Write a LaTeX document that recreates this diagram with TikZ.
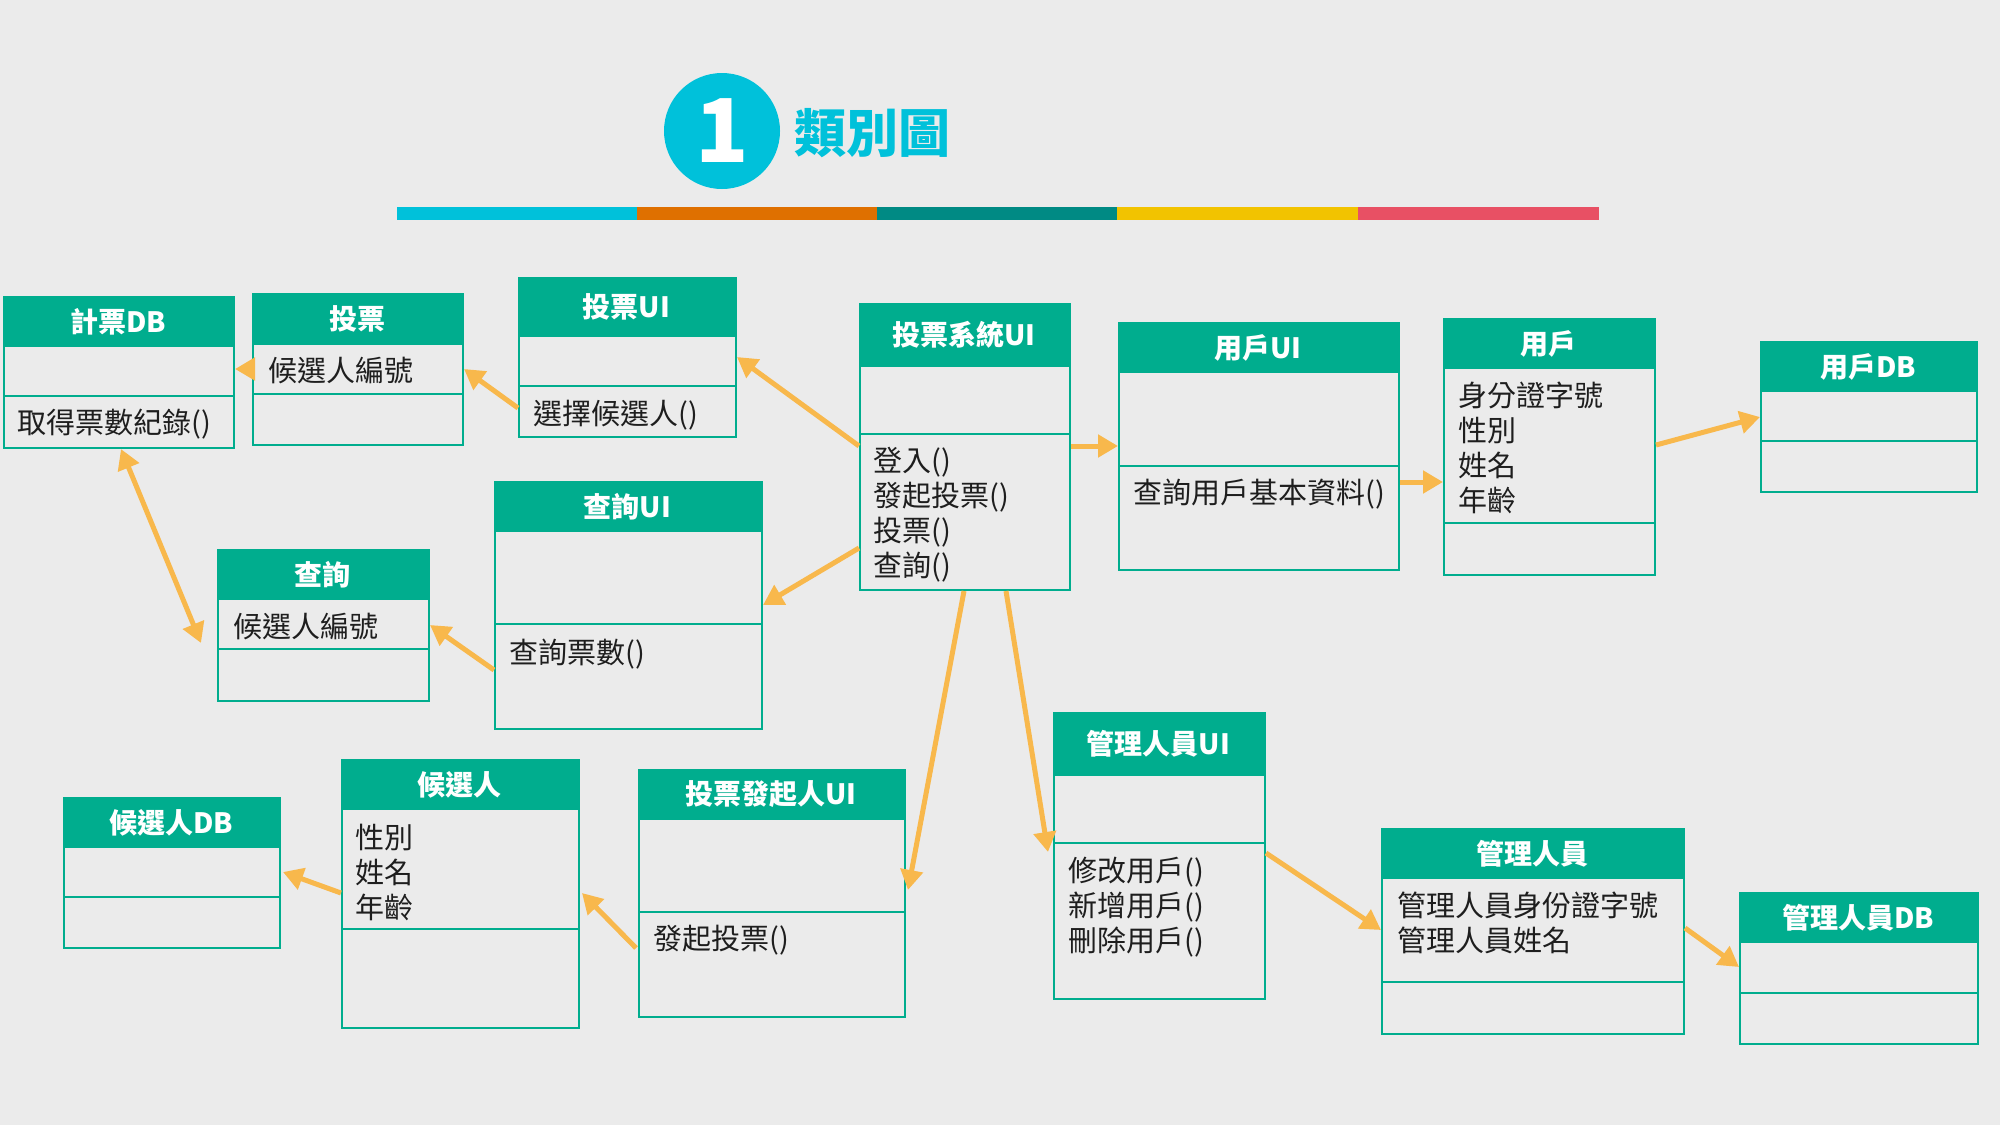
\documentclass[tikz,border=0pt]{standalone}
\usepackage{fontspec}
\setmainfont{Noto Sans CJK TC}
\usetikzlibrary{arrows.meta,calc}
\definecolor{bgc}{RGB}{235,235,235}
\definecolor{hdrc}{RGB}{0,173,142}
\definecolor{arrc}{RGB}{248,184,76}
\definecolor{bodyc}{RGB}{30,30,30}
\definecolor{cyanc}{RGB}{0,193,218}
\definecolor{orangec}{RGB}{223,112,0}
\definecolor{tealc}{RGB}{0,138,132}
\definecolor{yellowc}{RGB}{242,195,0}
\definecolor{redc}{RGB}{232,80,100}
\tikzset{
  clsbox/.style={draw=hdrc, line width=2pt, inner sep=0pt, anchor=north west},
  clsline/.style={draw=hdrc, line width=2pt},
  hdrtxt/.style={text=white, font=\bfseries\fontsize{28}{34}\selectfont, inner sep=0pt},
  bodytxt/.style={text=bodyc, font=\fontsize{29}{35}\selectfont, align=left, inner sep=0pt, anchor=north west},
  conn/.style={draw=arrc, line width=5pt, -{Triangle[length=20pt,width=22pt]}},
  conn2/.style={draw=arrc, line width=5pt, {Triangle[length=20pt,width=22pt]}-{Triangle[length=20pt,width=22pt]}}
}
\newcommand\umlcls[8]{%
  \node[clsbox, minimum width=#4pt, minimum height=#5pt] (#1) at (#2,#3) {};
  \fill[hdrc] (#1.north west) rectangle ([yshift=-#6pt]#1.north east);
  \draw[clsline] ([yshift=-#7pt]#1.north west) -- ([yshift=-#7pt]#1.north east);
  \node[hdrtxt] (#1-title) at ({#2+#4/2},{#3+#6/2}) {#8};
}
\begin{document}
\begin{tikzpicture}[x=1pt,y=-1pt]
\useasboundingbox[fill=bgc] (0,0) rectangle (2000,1125);
% title
\node[circle, fill=cyanc, minimum size=116pt, inner sep=0pt] (num) at (722,131) {};
\node[text=white, font=\bfseries\fontsize{88}{90}\selectfont, inner sep=0pt] (numtxt) at (722,131) {1};
\node[text=cyanc, font=\bfseries\fontsize{52}{56}\selectfont, inner sep=0pt, anchor=west] (ttl) at (794,133) {類別圖};
\fill[cyanc] (397,207) rectangle (637,220);
\fill[orangec] (637,207) rectangle (877,220);
\fill[tealc] (877,207) rectangle (1117,220);
\fill[yellowc] (1117,207) rectangle (1358,220);
\fill[redc] (1358,207) rectangle (1599,220);
% classes
\umlcls{jp}{3}{296}{230}{151}{51}{100}{計票DB}
\umlcls{tp}{252}{293}{210}{151}{52}{101}{投票}
\umlcls{tpui}{518}{277}{217}{159}{60}{109}{投票UI}
\umlcls{cxui}{494}{481}{267}{247}{51}{143}{查詢UI}
\umlcls{cx}{217}{549}{211}{151}{51}{100}{查詢}
\umlcls{sys}{859}{303}{210}{286}{64}{131}{投票系統UI}
\umlcls{yhui}{1118}{322}{280}{247}{51}{144}{用戶UI}
\umlcls{yh}{1443}{318}{211}{256}{51}{205}{用戶}
\umlcls{yhdb}{1760}{341}{216}{150}{51}{100}{用戶DB}
\umlcls{hxdb}{63}{797}{216}{150}{51}{100}{候選人DB}
\umlcls{hx}{341}{759}{237}{268}{51}{170}{候選人}
\umlcls{fqui}{638}{769}{266}{247}{51}{143}{投票發起人UI}
\umlcls{glui}{1053}{712}{211}{286}{64}{131}{管理人員UI}
\umlcls{gl}{1381}{828}{302}{205}{51}{154}{管理人員}
\umlcls{gldb}{1739}{892}{238}{151}{51}{101}{管理人員DB}
% body texts
\node[bodytxt] (jp-m) at (17,409) {取得票數紀錄()};
\node[bodytxt] (tp-a) at (268,357) {候選人編號};
\node[bodytxt] (tpui-m) at (533,400) {選擇候選人()};
\node[bodytxt] (cx-a) at (233,613) {候選人編號};
\node[bodytxt] (cxui-m) at (509,639) {查詢票數()};
\node[bodytxt] (sys-m) at (873,447) {登入()\\發起投票()\\投票()\\查詢()};
\node[bodytxt] (yhui-m) at (1133,479) {查詢用戶基本資料()};
\node[bodytxt] (yh-a) at (1458,382) {身分證字號\\性別\\姓名\\年齡};
\node[bodytxt] (hx-a) at (355,824) {性別\\姓名\\年齡};
\node[bodytxt] (fqui-m) at (653,925) {發起投票()};
\node[bodytxt] (glui-m) at (1068,857) {修改用戶()\\新增用戶()\\刪除用戶()};
\node[bodytxt] (gl-a) at (1397,892) {管理人員身份證字號\\管理人員姓名};
% connectors
\draw[conn] ([yshift=-143pt]sys.north west) -- ([yshift=-80pt]tpui.north east);
\draw[conn] ([yshift=-131pt]tpui.north west) -- ([yshift=-76pt]tp.north east);
\draw[conn] ([yshift=-76pt]tp.north west) -- ([yshift=-73pt]jp.north east);
\draw[conn2] ([xshift=2pt]jp.south) -- ([shift={(-16pt,-94pt)}]cx.north west);
\draw[conn] ([yshift=-189pt]cxui.north west) -- ([yshift=-76pt]cx.north east);
\draw[conn] ([yshift=-245pt]sys.north west) -- ([yshift=-124pt]cxui.north east);
\draw[conn] ([yshift=-143pt]sys.north east) -- ([yshift=-124pt]yhui.north west);
\draw[conn] ([yshift=-160pt]yhui.north east) -- ([yshift=-164pt]yh.north west);
\draw[conn] ([yshift=-127pt]yh.north east) -- ([yshift=-76pt]yhdb.north west);
\draw[conn] ([xshift=-1pt]sys.south) -- ([shift={(2pt,-121pt)}]fqui.north east);
\draw[conn] ([xshift=-65pt]sys.south east) -- ([shift={(-5pt,-140pt)}]glui.north west);
\draw[conn] ([shift={(-2pt,-179pt)}]fqui.north west) -- ([shift={(2pt,-134pt)}]hx.north east);
\draw[conn] ([yshift=-134pt]hx.north west) -- ([shift={(2pt,-75pt)}]hxdb.north east);
\draw[conn] ([yshift=-141pt]glui.north east) -- ([yshift=-102pt]gl.north west);
\draw[conn] ([yshift=-100pt]gl.north east) -- ([yshift=-75pt]gldb.north west);
\end{tikzpicture}
\end{document}
